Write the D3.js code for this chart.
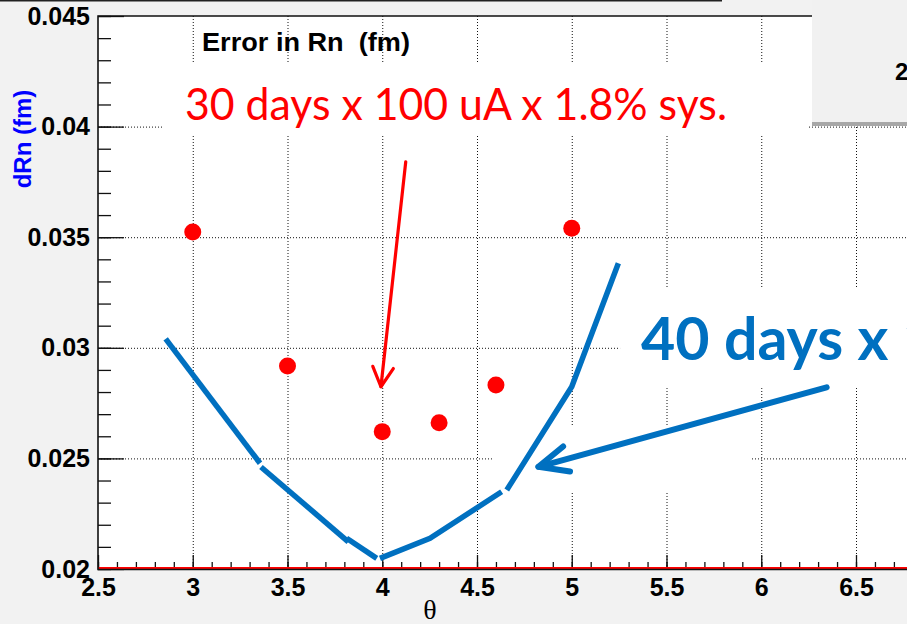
<!DOCTYPE html>
<html>
<head>
<meta charset="utf-8">
<script src="https://cdn.jsdelivr.net/npm/d3@7"></script>
<style>
body{margin:0;background:#f2f2f2;}
svg{display:block;}
</style>
</head>
<body>
<div id="chart"></div>
<script>
// values
var x_ticks=[2.5,3,3.5,4,4.5,5,5.5,6,6.5]
var x_labels=["2.5","3","3.5","4","4.5","5","5.5","6","6.5"]
var y_ticks=[0.02,0.025,0.03,0.035,0.04,0.045]
var y_labels=["0.02","0.025","0.03","0.035","0.04","0.045"]

// red points: dRn vs theta
var theta=[3.0,3.5,4.0,4.3,4.6,5.0]
var dRn=[0.03524,0.02918,0.02621,0.02661,0.02832,0.03540]

// hand drawn blue curve (pieces)
var blue_seg1=[[2.857,0.03040],[3.355,0.02478]]
var blue_seg2=[[3.360,0.02461],[3.821,0.02123]]
var blue_seg3=[[3.812,0.02139],[3.971,0.02048]]
var blue_seg4=[[3.988,0.02048],[4.252,0.02139],[4.630,0.02349]]
var blue_seg5=[[4.657,0.02357],[5.000,0.02824],[5.246,0.03382]]

// arrows [start, tip]
var red_arrow=[[4.124,0.03841],[3.993,0.02824]]
var blue_arrow=[[6.345,0.02821],[4.824,0.02462]]

// white boxes behind the overlay text (they hide the grid) [x0,y0,x1,y1]
var mask_boxes=[[2.843,0.04287,6.247,0.03962],[4.579,0.02642,5.941,0.02348],[5.255,0.03270,6.769,0.02818]]

var W=907,H=624
var root_font="'Liberation Sans', Arial, sans-serif"

var svg=d3.select("#chart").append("svg")
    .attr("width",W).attr("height",H)

svg.append("rect").attr("width",W).attr("height",H).attr("fill","#f2f2f2")

// edge of the box above
svg.append("line").attr("x1",0).attr("x2",722).attr("y1",0.8).attr("y2",0.8)
    .attr("stroke","#222").attr("stroke-width",1.6)

var x=d3.scaleLinear().domain([2.5,7]).range([98,98+4.5*189.5])
var y=d3.scaleLinear().domain([0.02,0.045]).range([569,16])

// frame
svg.append("rect")
    .attr("x",x(2.5)).attr("y",y(0.045))
    .attr("width",x(7)-x(2.5)).attr("height",y(0.02)-y(0.045))
    .attr("fill","white")

// grid
var grid=svg.append("g").attr("stroke","#111").attr("stroke-width",1).attr("stroke-dasharray","1,2")
grid.selectAll(".gx").data(x_ticks.slice(1)).join("line")
    .attr("x1",d=>x(d)+0.5).attr("x2",d=>x(d)+0.5)
    .attr("y1",y(0.045)).attr("y2",y(0.02))
grid.selectAll(".gy").data(y_ticks.slice(1,-1)).join("line")
    .attr("x1",x(2.5)).attr("x2",x(7))
    .attr("y1",d=>y(d)+0.5).attr("y2",d=>y(d)+0.5)

svg.selectAll(".mask").data(mask_boxes).join("rect")
    .attr("x",d=>x(d[0])).attr("y",d=>y(d[1]))
    .attr("width",d=>x(d[2])-x(d[0])).attr("height",d=>y(d[3])-y(d[1]))
    .attr("fill","white")

// axes
var yAxis=svg.append("g").attr("transform","translate("+x(2.5)+",0)")
    .call(d3.axisLeft(y).tickValues(y_ticks).tickSize(-26).tickPadding(8)
        .tickFormat((d,i)=>y_labels[i]))
svg.append("g").attr("transform","translate("+x(2.5)+",0)")
    .call(d3.axisLeft(y).tickValues(d3.range(0.02,0.0451,0.001)).tickSize(-13).tickFormat(""))
    .select(".domain").remove()

var xAxis=svg.append("g").attr("transform","translate(0,"+y(0.02)+")")
    .call(d3.axisBottom(x).tickValues(x_ticks).tickSize(-14).tickPadding(9)
        .tickFormat((d,i)=>x_labels[i]))
svg.append("g").attr("transform","translate(0,"+y(0.02)+")")
    .call(d3.axisBottom(x).tickValues(d3.range(2.5,7.01,0.1)).tickSize(-7).tickFormat(""))
    .select(".domain").remove()

yAxis.select(".domain").remove()
xAxis.select(".domain").remove()
svg.selectAll(".tick line").attr("stroke","#111").attr("stroke-width",1.3)
svg.selectAll(".tick text")
    .style("font-family",root_font).style("font-weight","bold")
    .style("font-size","25px").attr("fill","#000")

// red line on the bottom edge and frame lines
svg.append("line").attr("x1",x(2.5)).attr("x2",x(7))
    .attr("y1",y(0.02)-1).attr("y2",y(0.02)-1)
    .attr("stroke","#ff0000").attr("stroke-width",2)
svg.append("path")
    .attr("d","M"+x(7)+","+y(0.045)+"H"+x(2.5)+"V"+(y(0.02)+0.5)+"H"+x(7))
    .attr("fill","none").attr("stroke","#111").attr("stroke-width",1.6)

// titles
svg.append("text").attr("x",202).attr("y",51)
    .attr("textLength",208).attr("lengthAdjust","spacingAndGlyphs")
    .style("white-space","pre")
    .style("font-family",root_font).style("font-weight","bold").style("font-size","26px")
    .text("Error in Rn  (fm)")

svg.append("text").attr("transform","translate(31,139) rotate(-90)")
    .attr("text-anchor","middle").attr("fill","#0000ff")
    .style("font-family",root_font).style("font-weight","bold").style("font-size","24px")
    .text("dRn (fm)")

svg.append("text").attr("x",430).attr("y",619).attr("text-anchor","middle")
    .style("font-family","'Liberation Serif','DejaVu Serif',serif").style("font-size","28px")
    .text("θ")

// points
svg.selectAll(".pt").data(theta).join("circle")
    .attr("cx",d=>x(d)).attr("cy",(d,i)=>y(dRn[i])).attr("r",8.5)
    .attr("fill","#ff0000")

// blue curve
var line=d3.line().x(d=>x(d[0])).y(d=>y(d[1]))
svg.selectAll(".seg").data([blue_seg1,blue_seg2,blue_seg3,blue_seg4,blue_seg5]).join("path")
    .attr("d",line).attr("fill","none")
    .attr("stroke","#0070c0").attr("stroke-width",5.5).attr("stroke-linecap","butt")

function draw_arrow(pts,color,w,len,ang){
    var p0=[x(pts[0][0]),y(pts[0][1])], p1=[x(pts[1][0]),y(pts[1][1])]
    var a=Math.atan2(p0[1]-p1[1],p0[0]-p1[0])
    var arm1=[p1[0]+len*Math.cos(a+ang),p1[1]+len*Math.sin(a+ang)]
    var arm2=[p1[0]+len*Math.cos(a-ang),p1[1]+len*Math.sin(a-ang)]
    var g=svg.append("g").attr("fill","none").attr("stroke",color).attr("stroke-width",w)
        .attr("stroke-linecap","round").attr("stroke-linejoin","round")
    g.append("path").attr("d","M"+p0+"L"+p1)
    g.append("path").attr("d","M"+arm1+"L"+p1+"L"+arm2)
}
draw_arrow(red_arrow,"#ff0000",3.2,22,28*Math.PI/180)
draw_arrow(blue_arrow,"#0070c0",6,32,24*Math.PI/180)

// overlay texts
svg.append("text").attr("x",185).attr("y",120)
    .attr("textLength",542).attr("lengthAdjust","spacingAndGlyphs")
    .attr("fill","#ff0000")
    .style("font-family","Lato, 'Open Sans', sans-serif").style("font-size","44px")
    .text("30 days x 100 uA x 1.8% sys.")

// this one runs off the right edge, as in the original slide
svg.append("text").attr("x",641).attr("y",360)
    .attr("textLength",296).attr("lengthAdjust","spacingAndGlyphs")
    .attr("fill","#0070c0")
    .style("font-family","Lato, 'Open Sans', sans-serif").style("font-weight","bold").style("font-size","60px")
    .text("40 days x 1")

// stats box in the top right corner
svg.append("rect").attr("x",812).attr("y",122).attr("width",100).attr("height",4).attr("fill","#a8a8a8")
svg.append("rect").attr("x",812).attr("y",-2).attr("width",100).attr("height",124).attr("fill","#f1f1f1")
svg.append("text").attr("x",895).attr("y",80)
    .style("font-family",root_font).style("font-weight","bold").style("font-size","24px")
    .text("2")
</script>
</body>
</html>
